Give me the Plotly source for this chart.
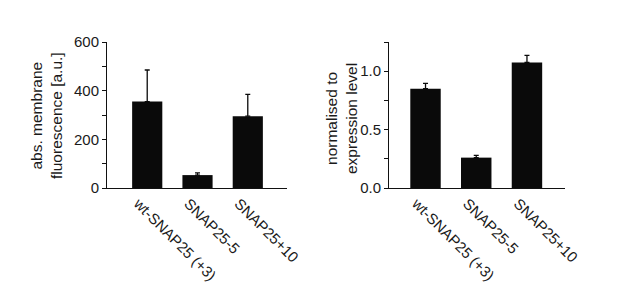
import plotly.graph_objects as go

categories = ["wt-SNAP25 (+3)", "SNAP25-5", "SNAP25+10"]
abs_fluor = [355, 53, 295]
abs_fluor_err = [130, 9, 90]
norm_expr = [0.85, 0.26, 1.075]
norm_expr_err = [0.045, 0.02, 0.06]

left_title = "abs. membrane<br>fluorescence [a.u.]"
right_title = "normalised to<br>expression level"

W, H = 617, 294
FONT = "Liberation Sans, Arial, sans-serif"
TXT = "#1a1a1a"
BAR = "#0a0a0a"

fig = go.Figure()
fig.add_trace(go.Bar(x=categories, y=abs_fluor, width=0.6, marker=dict(color=BAR, line=dict(width=0)),
                     error_y=dict(type="data", symmetric=False, array=abs_fluor_err,
                                  arrayminus=[0, 0, 0], color=BAR, thickness=1.3, width=2.5),
                     xaxis="x", yaxis="y"))
fig.add_trace(go.Bar(x=categories, y=norm_expr, width=0.6, marker=dict(color=BAR, line=dict(width=0)),
                     error_y=dict(type="data", symmetric=False, array=norm_expr_err,
                                  arrayminus=[0, 0, 0], color=BAR, thickness=1.3, width=2.5),
                     xaxis="x2", yaxis="y2"))

ydom = [106 / H, 252 / H]
xcommon = dict(showline=True, linecolor="#111", linewidth=1, ticks="", tickangle=45,
               tickfont=dict(family=FONT, size=15, color=TXT), showgrid=False, zeroline=False,
               fixedrange=True, automargin=False, ticklabelshift=-9)
ycommon = dict(showline=True, linecolor="#111", linewidth=1, ticks="outside", ticklen=4,
               tickwidth=1, tickcolor="#111", tickfont=dict(family=FONT, size=15, color=TXT),
               showgrid=False, zeroline=False, domain=ydom, automargin=False, fixedrange=True)

fig.update_layout(
    width=W, height=H, margin=dict(l=0, r=0, t=0, b=0),
    paper_bgcolor="white", plot_bgcolor="white", showlegend=False, hovermode=False,
    xaxis=dict(domain=[107 / W, 287 / W], range=[-0.8, 2.78], anchor="y", **xcommon),
    xaxis2=dict(domain=[389 / W, 565 / W], range=[-0.72, 2.75], anchor="y2", **xcommon),
    yaxis=dict(anchor="x", range=[0, 600], tickvals=[0, 200, 400, 600],
               minor=dict(tickvals=[100, 300, 500], ticks="outside", ticklen=4, tickcolor="#111"),
               **ycommon),
    yaxis2=dict(anchor="x2", range=[0, 1.25], tickvals=[0, 0.5, 1.0], ticktext=["0.0", "0.5", "1.0"],
                minor=dict(tickvals=[0.25, 0.75, 1.25], ticks="outside", ticklen=4, tickcolor="#111"),
                **ycommon),
    annotations=[
        dict(text=left_title, x=46 / W, y=(H - 116) / H, xref="paper", yref="paper",
             textangle=-90, showarrow=False, font=dict(family=FONT, size=15.5, color=TXT),
             xanchor="center", yanchor="middle"),
        dict(text=right_title, x=341 / W, y=(H - 119) / H, xref="paper", yref="paper",
             textangle=-90, showarrow=False, font=dict(family=FONT, size=15.5, color=TXT),
             xanchor="center", yanchor="middle"),
    ],
)

fig.write_html("out.html", config={"displayModeBar": False, "staticPlot": True},
               post_script="document.body.style.margin='0';document.body.style.overflow='hidden';")
